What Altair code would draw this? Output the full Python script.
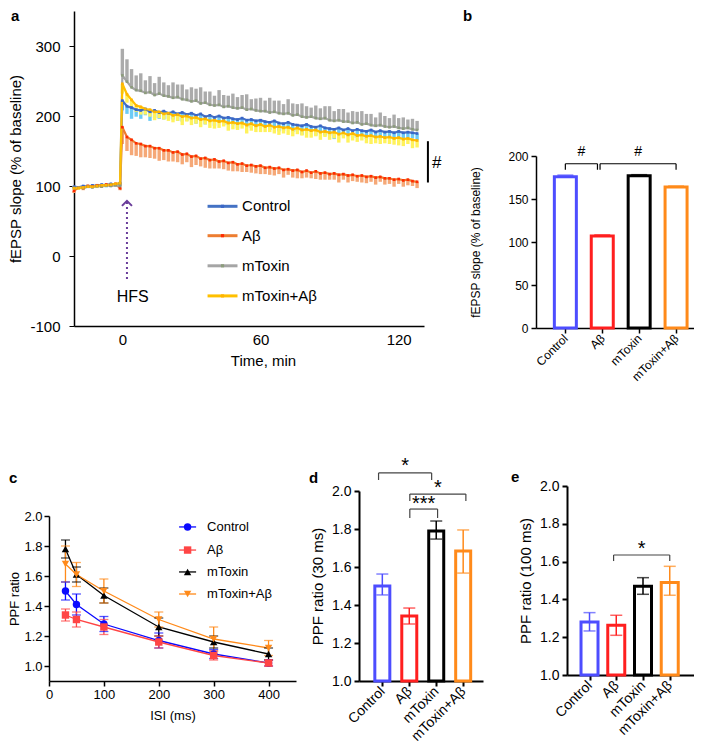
import altair as alt
import pandas as pd

FONT = "Liberation Sans"
GROUPS = ["Control", "Aβ", "mToxin", "mToxin+Aβ"]
POS = [1, 2, 3, 4]
LABEL_EXPR = "['" + "','".join(GROUPS) + "'][datum.value - 1]"

# ---------------- panel a: LTP time course ----------------
TIME = [-21, -19, -17, -15, -13, -11, -9, -7, -5, -3, -1,
        0, 2, 4, 6, 8, 10, 12, 14, 16, 18,
        20, 22, 24, 26, 28, 30, 32, 34, 36, 38,
        40, 42, 44, 46, 48, 50, 52, 54, 56, 58,
        60, 62, 64, 66, 68, 70, 72, 74, 76, 78,
        80, 82, 84, 86, 88, 90, 92, 94, 96, 98,
        100, 102, 104, 106, 108, 110, 112, 114, 116, 118,
        120, 122, 124, 126, 128]

A_CONTROL = [99, 98, 100, 99, 101, 100, 102, 101, 103, 102, 104,
             222, 214, 212, 209, 208, 210, 206, 208, 205, 207,
             204, 206, 203, 205, 202, 204, 201, 203, 199, 201,
             198, 200, 197, 198, 196, 195, 197, 194, 195, 193,
             194, 192, 191, 193, 190, 189, 191, 188, 187, 186,
             188, 185, 184, 186, 183, 182, 181, 183, 180, 182,
             179, 181, 179, 178, 180, 177, 179, 177, 178, 176,
             178, 176, 177, 176, 175]
A_CONTROL_ERR = [2, 3, 2, 2, 3, 2, 2, 3, 2, 2, 3,
                 14, 11, 16, 10, 12, 9, 13, 11, 9, 12,
                 8, 11, 10, 13, 9, 10, 12, 8, 11, 9,
                 12, 8, 10, 11, 9, 13, 8, 10, 12, 9,
                 10, 8, 11, 9, 12, 10, 8, 11, 9, 13,
                 10, 8, 12, 9, 11, 10, 14, 9, 8, 11,
                 10, 12, 9, 11, 8, 10, 13, 9, 11, 10,
                 12, 9, 11, 8, 10]

A_ABETA = [93, 98, 97, 100, 99, 101, 100, 102, 101, 103, 97,
           184, 170, 166, 161, 160, 157, 157, 154, 154, 151,
           151, 148, 149, 145, 146, 142, 143, 139, 140, 137,
           138, 135, 136, 133, 134, 131, 132, 129, 130, 128,
           129, 126, 127, 125, 126, 123, 124, 122, 123, 120,
           122, 119, 121, 118, 119, 117, 118, 116, 117, 115,
           116, 114, 115, 113, 114, 112, 113, 111, 111, 109,
           110, 108, 109, 107, 106]
A_ABETA_ERR = [3, 2, 3, 2, 2, 3, 2, 3, 2, 2, 3,
               24, 20, 22, 18, 19, 16, 17, 15, 18, 14,
               16, 13, 15, 14, 12, 15, 13, 11, 14, 12,
               13, 10, 12, 11, 13, 10, 12, 9, 11, 10,
               12, 9, 11, 10, 9, 11, 8, 10, 12, 9,
               10, 8, 11, 9, 10, 8, 9, 11, 8, 10,
               9, 8, 10, 9, 8, 10, 7, 9, 8, 10,
               7, 9, 8, 7, 9]

A_MTOXIN = [97, 98, 97, 99, 98, 100, 99, 101, 100, 101, 100,
            258, 249, 241, 237, 236, 233, 234, 230, 232, 229,
            228, 226, 227, 224, 223, 221, 222, 218, 219, 216,
            215, 216, 213, 214, 212, 211, 212, 209, 210, 208,
            207, 207, 205, 206, 204, 203, 204, 201, 202, 199,
            198, 199, 197, 196, 197, 194, 193, 194, 192, 192,
            190, 191, 188, 189, 187, 186, 187, 185, 184, 185,
            183, 182, 183, 181, 180]
A_MTOXIN_ERR = [3, 2, 3, 3, 2, 3, 2, 3, 3, 2, 3,
                38, 32, 26, 21, 25, 18, 23, 17, 24, 19,
                16, 22, 18, 21, 15, 20, 17, 23, 16, 19,
                14, 21, 17, 15, 20, 16, 18, 22, 14, 17,
                19, 15, 21, 16, 18, 14, 20, 17, 15, 19,
                16, 13, 18, 15, 17, 20, 14, 16, 18, 13,
                17, 15, 19, 14, 16, 12, 18, 15, 13, 17,
                14, 16, 12, 15, 13]

A_MTAB = [97, 97, 98, 99, 99, 100, 101, 101, 102, 103, 104,
          246, 231, 223, 215, 213, 210, 209, 206, 206, 203,
          204, 201, 202, 199, 200, 197, 198, 195, 196, 193,
          194, 192, 193, 190, 191, 189, 190, 187, 189, 186,
          188, 185, 187, 184, 185, 183, 184, 181, 183, 180,
          181, 179, 180, 177, 178, 176, 177, 174, 176, 173,
          175, 172, 173, 171, 172, 170, 171, 169, 170, 168,
          169, 167, 168, 166, 165]
A_MTAB_ERR = [2, 2, 3, 2, 2, 3, 2, 2, 3, 2, 2,
              14, 12, 10, 9, 11, 8, 10, 12, 9, 8,
              11, 10, 9, 12, 8, 10, 9, 11, 8, 10,
              12, 9, 8, 11, 10, 9, 8, 12, 10, 9,
              11, 8, 10, 9, 12, 8, 11, 10, 9, 8,
              12, 10, 9, 11, 8, 10, 9, 12, 8, 11,
              10, 9, 8, 10, 12, 9, 11, 8, 10, 9,
              11, 10, 8, 12, 10]

A_ERR_UP = [False, False, True, False]
A_LINE_COLORS = ["#4472C4", "#ED7D31", "#A5A5A5", "#FFC000"]
A_MARK_COLORS = ["#3A66C8", "#FF2A00", "#8C9C7C", "#FFB400"]
A_ERR_COLORS = ["#6CCBF5", "#F5A877", "#ABABAB", "#FFF25C"]

# legend anchors of panel a (data units: minutes / % of baseline)
LEG_A_Y = [71, 29, -14, -57]
LEG_A_T = [37, 50]
LEG_A_LABEL_T = 52

HFS_ARROW_T = [2]
HFS_ARROW_Y = [-33, 77]
HFS_TEXT_T = [4.5]
HFS_TEXT_Y = [-65]
SIG_A_T = [132.7]
SIG_A_Y = [105, 164]
SIG_A_TEXT_T = [136.5]
SIG_A_TEXT_Y = [126]

# ---------------- panel b ----------------
B_VALUES = [176, 107, 177, 164]
B_ERR = [1.5, 1.0, 1.0, 0.8]
B_BR_X1 = [1.0, 1.94]
B_BR_X2 = [1.87, 4.0]
B_BR_Y = [191, 191]
B_BR_LEG = [184, 184]
B_BR_TEXT = ["#", "#"]
B_BR_TEXT_Y = [200, 200]

# ---------------- panel c ----------------
ISI = [30, 50, 100, 200, 300, 400]
C_MEANS = [
    [1.50, 1.41, 1.28, 1.17, 1.08, 1.02],
    [1.34, 1.31, 1.26, 1.16, 1.07, 1.02],
    [1.78, 1.61, 1.47, 1.26, 1.16, 1.08],
    [1.68, 1.61, 1.50, 1.31, 1.18, 1.12],
]
C_SEM = [
    [0.06, 0.07, 0.05, 0.05, 0.03, 0.02],
    [0.04, 0.05, 0.05, 0.04, 0.03, 0.02],
    [0.06, 0.05, 0.05, 0.06, 0.04, 0.04],
    [0.12, 0.08, 0.08, 0.05, 0.08, 0.05],
]
C_COLORS = ["#0A0AFF", "#FF4545", "#000000", "#FF8A1A"]
C_SHAPES = ["circle", "square", "triangle-up", "triangle-down"]
# legend anchors of panel c (data units: ms / ratio)
LEG_C_Y = [1.927, 1.773, 1.627, 1.48]
LEG_C_X = [237, 268]
LEG_C_MARK_X = 252.5
LEG_C_LABEL_X = 288

# ---------------- panels d, e ----------------
BAR_COLORS = ["#4D4DFF", "#FF1F1F", "#000000", "#FF8A1A"]
D_VALUES = [1.50, 1.342, 1.79, 1.684]
D_LOW = [1.453, 1.30, 1.747, 1.568]
D_HIGH = [1.563, 1.384, 1.842, 1.795]
D_BR_X1 = [0.86, 2.02, 2.02]
D_BR_X2 = [2.83, 4.1, 3.05]
D_BR_Y = [2.095, 1.984, 1.905]
D_BR_LEG = [2.058, 1.947, 1.858]
D_BR_TEXT = ["*", "*", "***"]
D_BR_TEXT_Y = [2.10, 1.984, 1.90]

E_VALUES = [1.28, 1.263, 1.469, 1.49]
E_LOW = [1.233, 1.21, 1.427, 1.422]
E_HIGH = [1.33, 1.316, 1.515, 1.575]
E_BR_X1 = [1.9]
E_BR_X2 = [4.0]
E_BR_Y = [1.635]
E_BR_LEG = [1.603]
E_BR_TEXT = ["*"]
E_BR_TEXT_Y = [1.635]

RATIO_TICKS = [1.0, 1.2, 1.4, 1.6, 1.8, 2.0]
PLAIN_LABEL = "'' + datum.value"


def panel_title(letter, dx, dy):
    return alt.TitleParams(text=letter, anchor="start", frame="group", fontSize=15,
                           fontWeight="bold", offset=0, dx=dx, dy=dy,
                           font=FONT, color="black")


def spacer(w):
    return alt.Chart(pd.DataFrame({"s": [0]})).mark_point(opacity=0).properties(width=w, height=1)


def brackets(x1, x2, y, leg, text, ty, xsc, ysc, fs, color="#444444"):
    df = pd.DataFrame({"x1": x1, "x2": x2, "y": y, "leg": leg, "text": text, "ty": ty})
    df["xm"] = (df["x1"] + df["x2"]) / 2
    base = alt.Chart(df)
    top = base.mark_rule(color=color, strokeWidth=1.2).encode(
        x=alt.X("x1:Q", scale=xsc), x2="x2:Q", y=alt.Y("y:Q", scale=ysc))
    left = base.mark_rule(color=color, strokeWidth=1.2).encode(
        x=alt.X("x1:Q", scale=xsc), y=alt.Y("y:Q", scale=ysc), y2="leg:Q")
    right = base.mark_rule(color=color, strokeWidth=1.2).encode(
        x=alt.X("x2:Q", scale=xsc), y=alt.Y("y:Q", scale=ysc), y2="leg:Q")
    txt = base.mark_text(fontSize=fs, baseline="alphabetic", align="center", color="black").encode(
        x=alt.X("xm:Q", scale=xsc), y=alt.Y("ty:Q", scale=ysc), text="text:N")
    return [top, left, right, txt]


# ======== panel a ========
rows = []
for g, vals, errs, up in zip(GROUPS, [A_CONTROL, A_ABETA, A_MTOXIN, A_MTAB],
                             [A_CONTROL_ERR, A_ABETA_ERR, A_MTOXIN_ERR, A_MTAB_ERR], A_ERR_UP):
    for t, v, e in zip(TIME, vals, errs):
        rows.append({"group": g, "t": t, "v": v,
                     "lo": v if up else v - e, "hi": v + e if up else v})
dfa = pd.DataFrame(rows)

xsc_a = alt.Scale(domain=[-21, 131], range=[25, 375], nice=False, zero=False)
ysc_a = alt.Scale(domain=[-100, 350], nice=False, zero=False)
a_line_sc = alt.Scale(domain=GROUPS, range=A_LINE_COLORS)
a_mark_sc = alt.Scale(domain=GROUPS, range=A_MARK_COLORS)
x_axis_a = alt.Axis(values=[0, 60, 120], title="Time, min", ticks=False, labelFontSize=15,
                    titleFontSize=15, labelPadding=6, titleX=214, titleY=27, tickCount=10,
                    titleBaseline="top", domainWidth=1.5, labelFlush=False, labelOverlap=False)
y_axis_a = alt.Axis(values=[-100, 0, 100, 200, 300], title="fEPSP slope (% of baseline)",
                    tickSize=5, labelFontSize=15, titleFontSize=15, labelPadding=9, tickCount=10,
                    titlePadding=6, domainWidth=1.5, offset=-25, labelExpr=PLAIN_LABEL,
                    labelOverlap=False)

a_err = alt.Chart(dfa).mark_rule(strokeWidth=3.4).encode(
    x=alt.X("t:Q", scale=xsc_a, axis=x_axis_a),
    y=alt.Y("lo:Q", scale=ysc_a, axis=y_axis_a), y2="hi:Q",
    stroke=alt.Stroke("group:N", scale=alt.Scale(domain=GROUPS, range=A_ERR_COLORS), legend=None))
a_line = alt.Chart(dfa).mark_line(strokeWidth=2.2).encode(
    x=alt.X("t:Q", scale=xsc_a), y=alt.Y("v:Q", scale=ysc_a),
    color=alt.Color("group:N", scale=a_line_sc, legend=None))
a_mark = alt.Chart(dfa).mark_square(size=7, opacity=1).encode(
    x=alt.X("t:Q", scale=xsc_a), y=alt.Y("v:Q", scale=ysc_a),
    fill=alt.Fill("group:N", scale=a_mark_sc, legend=None))

leg_a = pd.DataFrame({"group": GROUPS, "y": LEG_A_Y, "t1": LEG_A_T[0], "t2": LEG_A_T[1],
                      "tm": (LEG_A_T[0] + LEG_A_T[1]) / 2, "tl": LEG_A_LABEL_T})
a_leg_line = alt.Chart(leg_a).mark_rule(strokeWidth=3).encode(
    x=alt.X("t1:Q", scale=xsc_a), x2="t2:Q", y=alt.Y("y:Q", scale=ysc_a),
    color=alt.Color("group:N", scale=a_line_sc, legend=None))
a_leg_mark = alt.Chart(leg_a).mark_square(size=10, opacity=1).encode(
    x=alt.X("tm:Q", scale=xsc_a), y=alt.Y("y:Q", scale=ysc_a),
    fill=alt.Fill("group:N", scale=a_mark_sc, legend=None))
a_leg_text = alt.Chart(leg_a).mark_text(fontSize=15, align="left", baseline="middle", color="black").encode(
    x=alt.X("tl:Q", scale=xsc_a), y=alt.Y("y:Q", scale=ysc_a), text="group:N")

hfs_arrow = pd.DataFrame({"t": HFS_ARROW_T, "y0": [HFS_ARROW_Y[0]], "y1": [HFS_ARROW_Y[1]]})
hfs_text = pd.DataFrame({"t": HFS_TEXT_T, "y": HFS_TEXT_Y, "label": ["HFS"]})
PURPLE = "#6A3D9A"
a_hfs_line = alt.Chart(hfs_arrow).mark_rule(color=PURPLE, strokeWidth=2, strokeDash=[2, 3]).encode(
    x=alt.X("t:Q", scale=xsc_a), y=alt.Y("y0:Q", scale=ysc_a), y2="y1:Q")
a_hfs_head = alt.Chart(hfs_arrow).mark_point(shape="M-1,0.75L0,-0.25L1,0.75", filled=False, size=100,
                                             strokeWidth=2, color=PURPLE, opacity=1).encode(
    x=alt.X("t:Q", scale=xsc_a), y=alt.Y("y1:Q", scale=ysc_a))
a_hfs_text = alt.Chart(hfs_text).mark_text(fontSize=16, baseline="alphabetic", color="black").encode(
    x=alt.X("t:Q", scale=xsc_a), y=alt.Y("y:Q", scale=ysc_a), text="label:N")
sig_a = pd.DataFrame({"t": SIG_A_T, "y0": [SIG_A_Y[0]], "y1": [SIG_A_Y[1]],
                      "tt": SIG_A_TEXT_T, "ty": SIG_A_TEXT_Y, "label": ["#"]})
a_sig_line = alt.Chart(sig_a).mark_rule(color="black", strokeWidth=2).encode(
    x=alt.X("t:Q", scale=xsc_a), y=alt.Y("y0:Q", scale=ysc_a), y2="y1:Q")
a_sig_text = alt.Chart(sig_a).mark_text(fontSize=17, baseline="alphabetic", align="center", color="black").encode(
    x=alt.X("tt:Q", scale=xsc_a), y=alt.Y("ty:Q", scale=ysc_a), text="label:N")

panel_a = alt.layer(a_err, a_line, a_mark, a_leg_line, a_leg_mark, a_leg_text,
                    a_hfs_line, a_hfs_head, a_hfs_text, a_sig_line, a_sig_text).properties(
    width=310, height=315, title=panel_title("a", -38, 13))

# ======== panel b ========
bdf = pd.DataFrame({"group": GROUPS, "pos": POS, "val": B_VALUES,
                    "hi": [v + e for v, e in zip(B_VALUES, B_ERR)]})
xsc_b = alt.Scale(domain=[0.34, 4.54], range=[177, 342], nice=False, zero=False)
ysc_b = alt.Scale(domain=[0, 200], range=[317, 145], nice=False, zero=False)
x_axis_b = alt.Axis(values=POS, labelExpr=LABEL_EXPR, labelAngle=315, labelAlign="right",
                    labelBaseline="middle", labelFontSize=12, tickSize=5, labelPadding=3, tickCount=10,
                    title=None, domainWidth=1.5, tickWidth=1.5, labelFlush=False, labelOverlap=False)
y_axis_b = alt.Axis(values=[0, 50, 100, 150, 200], title="fEPSP slope (% of baseline)",
                    titleFontSize=12, labelFontSize=12, tickSize=5, labelPadding=3, tickCount=10,
                    titlePadding=25, domainWidth=1.5, tickWidth=1.5, offset=-177, labelOverlap=False)
b_bars = alt.Chart(bdf).mark_bar(size=22, fill="white", strokeWidth=3).encode(
    x=alt.X("pos:Q", scale=xsc_b, axis=x_axis_b),
    y=alt.Y("val:Q", scale=ysc_b, axis=y_axis_b), y2=alt.datum(0),
    stroke=alt.Stroke("group:N", scale=alt.Scale(domain=GROUPS, range=BAR_COLORS), legend=None))
b_caps = alt.Chart(bdf).mark_tick(orient="horizontal", size=16, thickness=2).encode(
    x=alt.X("pos:Q", scale=xsc_b), y=alt.Y("hi:Q", scale=ysc_b),
    color=alt.Color("group:N", scale=alt.Scale(domain=GROUPS, range=BAR_COLORS), legend=None))
panel_b = alt.layer(b_bars, b_caps,
                    *brackets(B_BR_X1, B_BR_X2, B_BR_Y, B_BR_LEG, B_BR_TEXT, B_BR_TEXT_Y,
                              xsc_b, ysc_b, 14, color="black")).properties(
    width=208, height=317, title=panel_title("b", 104, 13))

# ======== panel c ========
crow = []
for g, means, sems in zip(GROUPS, C_MEANS, C_SEM):
    for x, m, s in zip(ISI, means, sems):
        crow.append({"group": g, "isi": x, "v": m, "lo": m - s, "hi": m + s})
dfc = pd.DataFrame(crow)
leg_c = pd.DataFrame({"group": GROUPS, "v": LEG_C_Y, "x1": LEG_C_X[0], "x2": LEG_C_X[1],
                      "isi": LEG_C_MARK_X, "xl": LEG_C_LABEL_X})
xsc_c = alt.Scale(domain=[0, 450], nice=False, zero=False)
ysc_c = alt.Scale(domain=[0.9, 2.0], range=[195, 30], nice=False, zero=False)
csc = alt.Scale(domain=GROUPS, range=C_COLORS)
x_axis_c = alt.Axis(values=[0, 100, 200, 300, 400], title="ISI (ms)", labelFontSize=13,
                    titleFontSize=13, tickSize=5, titlePadding=8, domainWidth=1.5, tickCount=10,
                    tickWidth=1.5, labelFlush=False, labelOverlap=False)
y_axis_c = alt.Axis(values=RATIO_TICKS, format=".1f", title="PPF ratio",
                    labelFontSize=13, titleFontSize=13, tickSize=5, labelPadding=2, tickCount=10,
                    titlePadding=2, domainWidth=1.5, tickWidth=1.5, labelOverlap=False)
c_lines = alt.Chart(dfc).mark_line(strokeWidth=1.3).encode(
    x=alt.X("isi:Q", scale=xsc_c, axis=x_axis_c), y=alt.Y("v:Q", scale=ysc_c, axis=y_axis_c),
    color=alt.Color("group:N", scale=csc, legend=None))
c_err = alt.Chart(dfc).mark_rule(strokeWidth=1.3).encode(
    x=alt.X("isi:Q", scale=xsc_c), y=alt.Y("lo:Q", scale=ysc_c), y2="hi:Q",
    color=alt.Color("group:N", scale=csc, legend=None))
c_cap_lo = alt.Chart(dfc).mark_tick(orient="horizontal", size=9, thickness=1.3).encode(
    x=alt.X("isi:Q", scale=xsc_c), y=alt.Y("lo:Q", scale=ysc_c),
    color=alt.Color("group:N", scale=csc, legend=None))
c_cap_hi = alt.Chart(dfc).mark_tick(orient="horizontal", size=9, thickness=1.3).encode(
    x=alt.X("isi:Q", scale=xsc_c), y=alt.Y("hi:Q", scale=ysc_c),
    color=alt.Color("group:N", scale=csc, legend=None))
c_leg_line = alt.Chart(leg_c).mark_rule(strokeWidth=1.3).encode(
    x=alt.X("x1:Q", scale=xsc_c), x2="x2:Q", y=alt.Y("v:Q", scale=ysc_c),
    color=alt.Color("group:N", scale=csc, legend=None))
c_leg_text = alt.Chart(leg_c).mark_text(fontSize=13, align="left", baseline="middle", color="black").encode(
    x=alt.X("xl:Q", scale=xsc_c), y=alt.Y("v:Q", scale=ysc_c), text="group:N")
c_points = []
for g, shp in zip(GROUPS, C_SHAPES):
    for src in (dfc, leg_c):
        c_points.append(alt.Chart(src).transform_filter(alt.datum.group == g).mark_point(
            shape=shp, filled=True, size=55, opacity=1).encode(
            x=alt.X("isi:Q", scale=xsc_c), y=alt.Y("v:Q", scale=ysc_c),
            color=alt.Color("group:N", scale=csc, legend=None)))
panel_c = alt.layer(c_lines, c_err, c_cap_lo, c_cap_hi, c_leg_line, *c_points, c_leg_text).properties(
    width=247, height=195, title=panel_title("c", -40, 0))


# ======== panels d, e ========
def bar_panel(values, lows, highs, xdom, width, height, yrange, ytitle, bar_size, br, letter, ldx, ldy):
    df = pd.DataFrame({"group": GROUPS, "pos": POS, "val": values, "lo": lows, "hi": highs})
    xsc = alt.Scale(domain=xdom, nice=False, zero=False)
    ysc = alt.Scale(domain=[1.0, 2.0], range=yrange, nice=False, zero=False)
    bsc = alt.Scale(domain=GROUPS, range=BAR_COLORS)
    x_axis = alt.Axis(values=POS, labelExpr=LABEL_EXPR, labelAngle=315, labelAlign="right",
                      labelBaseline="middle", labelFontSize=14, tickSize=5, labelPadding=3,
                      tickCount=10, title=None, domainWidth=2, tickWidth=2, labelFlush=False,
                      labelOverlap=False)
    y_axis = alt.Axis(values=RATIO_TICKS, format=".1f", title=ytitle, tickCount=10,
                      labelFontSize=14, titleFontSize=15, tickSize=5, labelPadding=3,
                      titlePadding=6, domainWidth=2, tickWidth=2, labelOverlap=False)
    bars = alt.Chart(df).mark_bar(size=bar_size, fill="white", strokeWidth=3).encode(
        x=alt.X("pos:Q", scale=xsc, axis=x_axis), y=alt.Y("val:Q", scale=ysc, axis=y_axis),
        y2=alt.datum(1.0), stroke=alt.Stroke("group:N", scale=bsc, legend=None))
    err = alt.Chart(df).mark_rule(strokeWidth=1.5).encode(
        x=alt.X("pos:Q", scale=xsc), y=alt.Y("lo:Q", scale=ysc), y2="hi:Q",
        color=alt.Color("group:N", scale=bsc, legend=None))
    cap_lo = alt.Chart(df).mark_tick(orient="horizontal", size=12, thickness=1.5).encode(
        x=alt.X("pos:Q", scale=xsc), y=alt.Y("lo:Q", scale=ysc),
        color=alt.Color("group:N", scale=bsc, legend=None))
    cap_hi = alt.Chart(df).mark_tick(orient="horizontal", size=12, thickness=1.5).encode(
        x=alt.X("pos:Q", scale=xsc), y=alt.Y("hi:Q", scale=ysc),
        color=alt.Color("group:N", scale=bsc, legend=None))
    return alt.layer(bars, err, cap_lo, cap_hi, *brackets(*br, xsc, ysc, 20)).properties(
        width=width, height=height, title=panel_title(letter, ldx, ldy))


panel_d = bar_panel(D_VALUES, D_LOW, D_HIGH, [0.32, 4.55], 124, 195, [195, 5], "PPF ratio (30 ms)", 15,
                    (D_BR_X1, D_BR_X2, D_BR_Y, D_BR_LEG, D_BR_TEXT, D_BR_TEXT_Y), "d", -50, 30)
panel_e = bar_panel(E_VALUES, E_LOW, E_HIGH, [0.345, 4.72], 127, 189, [189, 0], "PPF ratio (100 ms)", 17,
                    (E_BR_X1, E_BR_X2, E_BR_Y, E_BR_LEG, E_BR_TEXT, E_BR_TEXT_Y), "e", -56, 6)

chart = alt.concat(
    panel_a, panel_b, spacer(127),
    panel_c, panel_d, panel_e,
    columns=3,
    spacing=alt.RowColnumber(row=158, column=0),
    align="each",
    bounds="flush",
).resolve_scale(
    color="independent", stroke="independent", fill="independent", shape="independent"
).properties(padding=0).configure_view(stroke=None).configure_axis(
    grid=False, labelColor="black", titleColor="black", domainColor="black", tickColor="black",
    labelFont=FONT, titleFont=FONT, titleFontWeight="normal"
).configure_text(font=FONT).configure_legend(labelFont=FONT)

chart.save("out.html", embed_options={"renderer": "svg", "actions": False})
